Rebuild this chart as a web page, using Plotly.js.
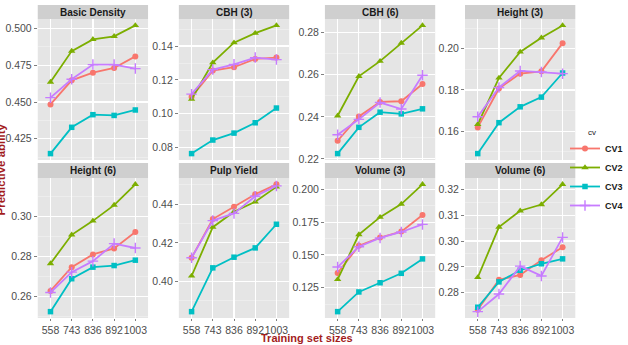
<!DOCTYPE html>
<html><head><meta charset="utf-8">
<script src="https://cdn.plot.ly/plotly-3.0.1.min.js"></script>
<style>html,body{margin:0;padding:0;background:#fff;}#chart{width:628px;height:345px;}</style>
</head><body><div id="chart"></div>
<script>
// ---- data ----
const sizes = ['558', '743', '836', '892', '1003'];
const traits = ['Basic Density', 'CBH (3)', 'CBH (6)', 'Height (3)', 'Height (6)', 'Pulp Yield', 'Volume (3)', 'Volume (6)'];
const seriesNames = ['CV1', 'CV2', 'CV3', 'CV4'];
// one row per trait (same order as traits), one value per training set size
const cv1 = [
  [0.4484, 0.4648, 0.4700, 0.4732, 0.4811],
  [0.1100, 0.1255, 0.1275, 0.1324, 0.1332],
  [0.2286, 0.2402, 0.2471, 0.2474, 0.2556],
  [0.1618, 0.1807, 0.1879, 0.1890, 0.2027],
  [0.2628, 0.2747, 0.2811, 0.2841, 0.2923],
  [0.4123, 0.4323, 0.4386, 0.4451, 0.4502],
  [0.1363, 0.1570, 0.1633, 0.1678, 0.1805],
  [0.2734, 0.2850, 0.2869, 0.2926, 0.2976]
];
const cv2 = [
  [0.4636, 0.4847, 0.4927, 0.4948, 0.5022],
  [0.1086, 0.1302, 0.1420, 0.1476, 0.1522],
  [0.2405, 0.2593, 0.2665, 0.2751, 0.2835],
  [0.1633, 0.1858, 0.1984, 0.2053, 0.2113],
  [0.2765, 0.2909, 0.2979, 0.3058, 0.3162],
  [0.4029, 0.4281, 0.4361, 0.4412, 0.4489],
  [0.1313, 0.1655, 0.1788, 0.1888, 0.2038],
  [0.2859, 0.3054, 0.3117, 0.3141, 0.3219]
];
const cv3 = [
  [0.4149, 0.4328, 0.4414, 0.4409, 0.4446],
  [0.0765, 0.0845, 0.0886, 0.0947, 0.1034],
  [0.2225, 0.2350, 0.2422, 0.2414, 0.2438],
  [0.1491, 0.1641, 0.1718, 0.1765, 0.1882],
  [0.2524, 0.2689, 0.2747, 0.2755, 0.2782],
  [0.3845, 0.4071, 0.4126, 0.4174, 0.4296],
  [0.1068, 0.1218, 0.1288, 0.1360, 0.1470],
  [0.2744, 0.2842, 0.2887, 0.2912, 0.2931]
];
const cv4 = [
  [0.4530, 0.4655, 0.4755, 0.4755, 0.4728],
  [0.1116, 0.1261, 0.1292, 0.1332, 0.1320],
  [0.2315, 0.2388, 0.2468, 0.2437, 0.2598],
  [0.1670, 0.1812, 0.1892, 0.1887, 0.1879],
  [0.2620, 0.2722, 0.2777, 0.2865, 0.2843],
  [0.4123, 0.4315, 0.4352, 0.4441, 0.4494],
  [0.1408, 0.1563, 0.1630, 0.1675, 0.1733],
  [0.2727, 0.2795, 0.2903, 0.2865, 0.3014]
];
const yTickStep = [0.025, 0.02, 0.02, 0.02, 0.02, 0.02, 0.025, 0.01];

// ---- styling ----
const W = 628, H = 345;
const colors = ['#F8766D', '#7CAE00', '#00BFC4', '#C77CFF'];
const symbols = ['circle', 'triangle-up', 'square', 'cross-thin-open'];
const msizes = [6, 6.5, 5.5, 7.5];
const allSeries = [cv1, cv2, cv3, cv4];
const cols = [[38, 149], [180, 291], [327, 438], [468, 579]];
const rows = [[19, 160], [178, 318]];
const strips = [[5, 19], [163, 178]];
const FONT = 'Liberation Sans, Arial, Helvetica, sans-serif';
const px = v => v / W, py = v => (H - v) / H;

const traces = [];
const layout = {
  width: W, height: H,
  margin: {l: 0, r: 0, t: 0, b: 0},
  paper_bgcolor: '#ffffff', plot_bgcolor: '#E5E5E5',
  font: {family: FONT, size: 11, color: '#4D4D4D'},
  showlegend: true,
  legend: {x: px(569), y: py(134), xanchor: 'left', yanchor: 'top',
    bgcolor: 'rgba(0,0,0,0)', font: {family: FONT, size: 9, color: '#1A1A1A', weight: 'bold'},
    itemwidth: 30, tracegroupgap: 0},
  shapes: [], annotations: []
};

traits.forEach((t, i) => {
  const r = Math.floor(i / 4), c = i % 4;
  const xa = 'xaxis' + (i + 1), ya = 'yaxis' + (i + 1);
  const xr = 'x' + (i === 0 ? '' : i + 1), yr = 'y' + (i === 0 ? '' : i + 1);
  let lo = Infinity, hi = -Infinity;
  allSeries.forEach(s => s[i].forEach(v => { lo = Math.min(lo, v); hi = Math.max(hi, v); }));
  const pad = (hi - lo) * 0.05;
  const step = yTickStep[i];
  const fmt = step === 0.025 ? '.3f' : '.2f';
  layout[xa] = {
    domain: [px(cols[c][0]), px(cols[c][1])], anchor: yr,
    type: 'category', range: [-0.6, 4.6],
    showgrid: true, gridcolor: '#FFFFFF', gridwidth: 1.2,
    zeroline: false, showline: false,
    ticks: r === 1 ? 'outside' : '', ticklen: 2, tickcolor: '#7F7F7F', tickwidth: 1,
    tickangle: 0,
    showticklabels: r === 1, tickfont: {family: FONT, size: 10.5, color: '#4D4D4D'},
    fixedrange: true
  };
  layout[ya] = {
    domain: [py(rows[r][1]), py(rows[r][0])], anchor: xr,
    range: [lo - pad, hi + pad],
    tick0: 0, dtick: step, tickformat: fmt,
    showgrid: true, gridcolor: '#FFFFFF', gridwidth: 1.2,
    minor: {showgrid: true, gridcolor: '#F2F2F2', gridwidth: 0.6, dtick: step / 2, tick0: 0},
    zeroline: false, showline: false,
    ticks: 'outside', ticklen: 3, tickcolor: '#7F7F7F', tickwidth: 1,
    tickfont: {family: FONT, size: 10.5, color: '#4D4D4D'},
    fixedrange: true
  };
  layout.shapes.push({type: 'rect', xref: 'paper', yref: 'paper',
    x0: px(cols[c][0]), x1: px(cols[c][1]), y0: py(strips[r][1]), y1: py(strips[r][0]),
    fillcolor: '#CFCFCF', line: {width: 0}, layer: 'below'});
  layout.annotations.push({xref: 'paper', yref: 'paper',
    x: px((cols[c][0] + cols[c][1]) / 2), y: py((strips[r][0] + strips[r][1]) / 2),
    text: t, showarrow: false, xanchor: 'center', yanchor: 'middle',
    font: {family: FONT, size: 10, color: '#1A1A1A', weight: 'bold'}});
  allSeries.forEach((s, k) => {
    traces.push({
      type: 'scatter', mode: 'lines+markers', x: sizes, y: s[i],
      xaxis: xr, yaxis: yr, name: seriesNames[k], legendgroup: seriesNames[k],
      showlegend: i === 0, cliponaxis: false,
      line: {color: colors[k], width: 1.8},
      marker: {symbol: symbols[k], size: msizes[k], color: colors[k],
        line: {color: colors[k], width: k === 3 ? 1.4 : 0}},
      hoverinfo: 'skip'
    });
  });
});

layout.annotations.push({xref: 'paper', yref: 'paper', x: px(308.5), y: 0,
  text: 'Training set sizes', showarrow: false, xanchor: 'center', yanchor: 'bottom', borderpad: 0,
  font: {family: FONT, size: 11, color: '#A31C1C', weight: 'bold'}});
layout.annotations.push({xref: 'paper', yref: 'paper', x: px(1.5), y: py(169),
  text: 'Predictive ability', showarrow: false, textangle: -90, xanchor: 'center', yanchor: 'middle',
  font: {family: FONT, size: 11.5, color: '#A31C1C', weight: 'bold'}});
layout.annotations.push({xref: 'paper', yref: 'paper', x: px(590), y: py(133),
  text: 'cv', showarrow: false, xanchor: 'left', yanchor: 'middle',
  font: {family: FONT, size: 8, color: '#1A1A1A'}});

Plotly.newPlot('chart', traces, layout, {staticPlot: true, displayModeBar: false});
</script></body></html>
